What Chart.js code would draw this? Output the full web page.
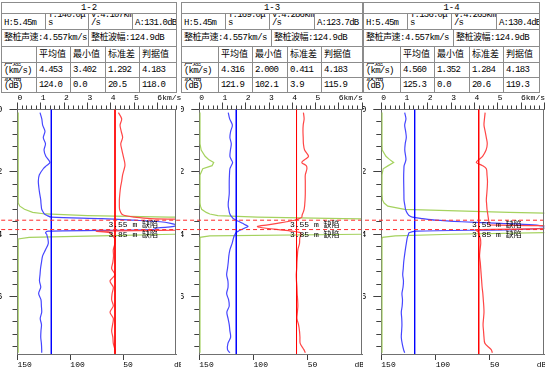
<!DOCTYPE html>
<html>
<head>
<meta charset="utf-8">
<script src="https://cdn.jsdelivr.net/npm/chart.js@4.4.0/dist/chart.umd.min.js"></script>
<style>
    html, body { margin: 0; padding: 0; background: #fff; }
    body { width: 545px; height: 369px; position: relative; overflow: hidden;
           font-family: "Liberation Mono", "Noto Sans CJK SC", monospace; }
    .cell { position: absolute; box-sizing: border-box; border: 1px solid #8c8c8c;
            font-size: 9px; line-height: 8px; color: #000; overflow: hidden;
            display: flex; align-items: center; padding-left: 2px;
            white-space: pre; letter-spacing: -0.8px; }
    .cell.title { justify-content: center; padding-left: 0; letter-spacing: 0; }
    .cell.low { align-items: flex-end; padding-bottom: 2px; }
    .cell.wide { letter-spacing: -0.5px; }
    .cell.cjk { letter-spacing: 0; }
    canvas { position: absolute; top: 92px; }
</style>
</head>
<body>
<script>
// 剖面名称和表头数据
const profileNames = ['1-2', '1-3', '1-4'];
const pileLength = 5.45;
const timeVals = [140.0, 169.0, 136.0];
const speedVals = [4.107, 4.286, 4.265];
const ampVals = [131.0, 123.7, 130.4];
const pileSpeed = 4.557;
const pileAmp = 124.9;
const statHeaders = ['平均值', '最小值', '标准差', '判据值'];
const speedStats = [[4.453, 3.402, 1.292, 4.183], [4.316, 2.000, 0.411, 4.183], [4.560, 1.352, 1.284, 4.183]];
const ampStats = [[124.0, 0.0, 20.5, 118.0], [121.9, 102.1, 3.9, 115.9], [125.3, 0.0, 20.6, 119.3]];
const defectDepths = [3.55, 3.85];

// 坐标轴刻度
const depthMax = 7.84;
const depthTickLabels = [0, 2, 4, 6];
const kmTickLabels = ['0', '1', '2', '3', '4', '5', '6km/s'];
const dbTickValues = [150, 100, 50];

// 测点深度 (m)
const depths = [
    0.1, 0.3, 0.5, 0.7, 0.9, 1.1, 1.3, 1.5,
    1.6, 1.7, 1.8, 1.9, 2.1, 2.3, 2.5, 2.7, 2.9,
    3.0, 3.1, 3.2, 3.3, 3.35, 3.4, 3.45,
    3.5, 3.55, 3.6, 3.65, 3.7, 3.75, 3.8, 3.85,
    3.9, 3.95, 4.0, 4.05, 4.1, 4.15, 4.3,
    4.5, 4.7, 4.9, 5.1, 5.3, 5.5, 5.7, 5.9, 6.1, 6.3, 6.5, 6.7, 6.9, 7.1, 7.3, 7.5, 7.7, 7.8
];

// 1-2 剖面
const amp12 = [
    128.7, 127.0, 126.2, 124.0, 125.6, 123.5, 124.9, 123.2,
    121.0, 119.3, 122.5, 125.6, 129.4, 130.3, 129.8, 129.0, 128.0,
    127.8, 127.5, 127.1, 125.5, 124.5, 122.0, 118.0,
    70.0, 40.0, 15.0, 5.0, 0.0, 2.0, 18.0, 22.0,
    121.0, 123.5, 122.4, 122.0, 121.6, 121.2, 120.9,
    123.5, 126.3, 127.3, 128.2, 128.7, 129.2, 128.0, 130.0, 127.8, 127.4, 127.1, 128.5, 127.3, 127.8, 128.0, 127.4, 127.1, 127.1
];
const speed12 = [
    4.33, 4.47, 4.40, 4.45, 4.51, 4.43, 4.48, 4.54,
    4.57, 4.60, 4.61, 4.58, 4.51, 4.47, 4.42, 4.39, 4.37,
    4.37, 4.37, 4.38, 4.43, 4.47, 4.60, 5.00,
    5.70, 9.00, 9.00, 9.00, 9.00, 9.00, 9.00, 9.00,
    3.40, 3.95, 4.04, 4.08, 4.14, 4.18, 4.18,
    4.11, 4.12, 4.09, 4.04, 4.18, 3.97, 4.11, 4.06, 4.04, 4.11, 3.97, 4.11, 4.08, 4.04, 4.09, 4.11, 4.18, 4.18
];
const psd12 = [
    0.03, 0.03, 0.03, 0.03, 0.03, 0.03, 0.03, 0.03,
    0.03, 0.03, 0.03, 0.03, 0.03, 0.03, 0.03, 0.03, 0.03,
    0.03, 0.10, 0.30, 0.65, 1.20, 3.00, 6.50,
    12, 12, 12, 12, 12, 12, 12, 12,
    12, 12, 6.70, 3.50, 0.50, 0.03, 0.03,
    0.03, 0.03, 0.03, 0.03, 0.03, 0.03, 0.03, 0.03, 0.03, 0.03, 0.03, 0.03, 0.03, 0.03, 0.03, 0.03, 0.03, 0.03
];

// 1-3 剖面
const amp13 = [
    123.3, 122.0, 119.5, 121.1, 121.8, 120.5, 121.3, 121.8,
    120.6, 119.3, 120.5, 121.8, 122.2, 122.4, 122.4, 122.4, 123.0,
    123.3, 123.3, 122.8, 122.3, 121.8, 121.0, 119.8,
    118.5, 116.0, 113.0, 110.0, 107.5, 105.0, 108.0, 111.0,
    114.0, 116.2, 117.0, 117.8, 118.3, 118.7, 119.8,
    121.8, 122.8, 123.3, 124.0, 124.8, 123.6, 123.5, 124.8, 123.0, 122.4, 124.6, 123.5, 122.4, 121.8, 121.1, 123.6, 124.0, 121.8
];
const speed13 = [
    4.48, 4.51, 4.47, 4.46, 4.47, 4.48, 4.53, 4.70,
    4.55, 4.41, 4.60, 4.63, 4.56, 4.56, 4.56, 4.56, 4.55,
    4.54, 4.53, 4.51, 4.47, 4.44, 4.42, 4.41,
    4.30, 4.10, 3.75, 3.35, 2.95, 2.50, 2.80, 3.40,
    4.00, 4.35, 4.38, 4.36, 4.33, 4.32, 4.31,
    4.24, 4.22, 4.20, 4.19, 4.17, 4.18, 4.20, 4.21, 4.23, 4.24, 4.22, 4.20, 4.27, 4.31, 4.33, 4.34, 4.50, 4.56
];
const psd13 = [
    0.03, 0.03, 0.03, 0.03, 0.03, 0.03, 0.08, 0.25,
    0.40, 0.62, 0.55, 0.15, 0.03, 0.03, 0.03, 0.03, 0.03,
    0.03, 0.05, 0.10, 0.30, 0.45, 0.80, 2.50,
    6.20, 12, 12, 12, 12, 12, 12, 12,
    12, 12, 7.00, 0.45, 0.03, 0.03, 0.03,
    0.03, 0.03, 0.03, 0.03, 0.03, 0.03, 0.03, 0.03, 0.03, 0.03, 0.03, 0.03, 0.03, 0.03, 0.03, 0.03, 0.03, 0.03
];

// 1-4 剖面
const amp14 = [
    128.5, 127.3, 128.5, 127.6, 127.0, 128.0, 128.4, 127.6,
    127.3, 128.0, 129.0, 129.2, 129.4, 129.4, 129.3, 129.2, 129.1,
    128.7, 128.2, 127.7, 126.5, 125.6, 124.5, 121.5,
    112.0, 100.3, 75.8, 40.0, 10.0, 0.0, 0.0, 28.0,
    118.0, 124.5, 125.0, 125.5, 126.0, 126.3, 127.0,
    127.9, 128.7, 129.4, 129.8, 130.3, 129.6, 130.0, 131.0, 130.5, 130.8, 131.6, 131.2, 131.0, 131.3, 131.6, 130.8, 129.5, 128.5
];
const speed14 = [
    4.46, 4.43, 4.41, 4.46, 4.51, 4.55, 4.50, 4.35,
    4.20, 4.08, 4.35, 4.51, 4.54, 4.56, 4.55, 4.53, 4.51,
    4.52, 4.53, 4.54, 4.56, 4.57, 4.58, 4.59,
    4.60, 4.61, 4.62, 4.63, 4.65, 9.00, 9.00, 4.05,
    4.12, 4.18, 4.20, 4.22, 4.24, 4.26, 4.27,
    4.24, 4.22, 4.25, 4.27, 4.29, 4.31, 4.33, 4.36, 4.38, 4.40, 4.41, 4.39, 4.37, 4.39, 4.41, 4.45, 4.72, 4.77
];
const psd14 = [
    0.03, 0.03, 0.03, 0.03, 0.03, 0.03, 0.04, 0.20,
    0.35, 0.53, 0.30, 0.08, 0.03, 0.03, 0.03, 0.03, 0.05,
    0.12, 0.28, 1.00, 5.50, 9.00, 12, 12,
    12, 12, 12, 12, 12, 12, 12, 12,
    12, 7.00, 3.00, 0.60, 0.05, 0.03, 0.03,
    0.03, 0.03, 0.03, 0.03, 0.03, 0.03, 0.03, 0.03, 0.03, 0.03, 0.03, 0.03, 0.03, 0.03, 0.03, 0.03, 0.03, 0.03
];

const ampSeries = [amp12, amp13, amp14];
const speedSeries = [speed12, speed13, speed14];
const psdSeries = [psd12, psd13, psd14];

// 版面位置
const rowY = [2, 13, 29, 46, 62, 77, 92];
const layouts = [
    { left: 1, width: 175, row2: [44, 87, 131], row3: 87, cols: [35, 69, 104, 138],
      canvasLeft: 0, canvasW: 181, axisW: 17.5, padRight: 5, kmMax: 6.8, dbUnit: 2 },
    { left: 181, width: 181, row2: [44, 88, 133], row3: 90, cols: [37, 71, 106, 140],
      canvasLeft: 181, canvasW: 182, axisW: 18.3, padRight: 1, kmMax: 7.0, dbUnit: 7 },
    { left: 363, width: 176, row2: [44, 88, 133], row3: 90, cols: [37, 71, 106, 140],
      canvasLeft: 363, canvasW: 182, axisW: 18.3, padRight: 0.7, kmMax: 7.0, dbUnit: 7 }
];
const labelKm = 3.9;

Chart.defaults.font.family = '"Liberation Mono", "Noto Sans CJK SC", monospace';
Chart.defaults.color = '#000';

function addCell(x0, y0, x1, y1, text, cls) {
    const d = document.createElement('div');
    d.className = 'cell' + (cls ? ' ' + cls : '');
    d.style.left = x0 + 'px';
    d.style.top = y0 + 'px';
    d.style.width = (x1 - x0 + 1) + 'px';
    d.style.height = (y1 - y0 + 1) + 'px';
    d.textContent = text;
    document.body.appendChild(d);
}

// 表头
function buildTable(p) {
    const L = layouts[p];
    const x0 = L.left, x1 = L.left + L.width;
    addCell(x0, rowY[0], x1, rowY[1], profileNames[p], 'title');

    const r2 = [x0, ...L.row2.map(v => x0 + v), x1];
    const r2Text = [
        'H:' + pileLength.toFixed(2) + 'm',
        'T:' + timeVals[p].toFixed(1) + 'μ\ns',
        'V:' + speedVals[p].toFixed(3) + 'km\n/s',
        'A:' + ampVals[p].toFixed(1) + 'dB'
    ];
    r2Text.forEach((t, i) => addCell(r2[i], rowY[1], r2[i + 1], rowY[2], t, 'low'));

    addCell(x0, rowY[2], x0 + L.row3, rowY[3], '整桩声速:' + pileSpeed.toFixed(3) + 'km/s', 'wide');
    addCell(x0 + L.row3, rowY[2], x1, rowY[3], '整桩波幅:' + pileAmp.toFixed(1) + 'dB', 'wide');

    const c = [x0, ...L.cols.map(v => x0 + v), x1];
    ['', ...statHeaders].forEach((t, i) => addCell(c[i], rowY[3], c[i + 1], rowY[4], t, 'cjk'));
    ['声速\n(km/s)', ...speedStats[p].map(v => v.toFixed(3))]
        .forEach((t, i) => addCell(c[i], rowY[4], c[i + 1], rowY[5], t, i === 0 ? 'low' : ''));
    ['波幅\n(dB)', ...ampStats[p].map(v => v.toFixed(1))]
        .forEach((t, i) => addCell(c[i], rowY[5], c[i + 1], rowY[6], t, i === 0 ? 'low' : ''));
}

const isWhole = (v, step) => Math.abs(v / step - Math.round(v / step)) < 1e-6;

// 右边框
const framePlugin = {
    id: 'frame',
    afterDraw(chart) {
        const a = chart.chartArea, ctx = chart.ctx;
        ctx.save();
        ctx.strokeStyle = '#707070';
        ctx.lineWidth = 1;
        ctx.beginPath();
        ctx.moveTo(Math.round(a.right) - 0.5, a.top);
        ctx.lineTo(Math.round(a.right) - 0.5, a.bottom);
        ctx.stroke();
        ctx.restore();
    }
};

// 缺陷标注
const defectLabelPlugin = {
    id: 'defectLabels',
    afterDatasetsDraw(chart) {
        const xs = chart.scales.xkm, ys = chart.scales.y, ctx = chart.ctx;
        ctx.save();
        ctx.font = '8px "Liberation Mono", "Noto Sans CJK SC"';
        ctx.fillStyle = '#000';
        ctx.textBaseline = 'top';
        defectDepths.forEach(d => {
            ctx.fillText(d.toFixed(2) + ' m 缺陷', xs.getPixelForValue(labelKm), ys.getPixelForValue(d) + 1);
        });
        ctx.restore();
    }
};

function buildChart(p) {
    const L = layouts[p];
    const canvas = document.createElement('canvas');
    canvas.width = L.canvasW;
    canvas.height = 277;
    canvas.style.left = L.canvasLeft + 'px';
    canvas.style.width = L.canvasW + 'px';
    canvas.style.height = '277px';
    document.body.appendChild(canvas);

    const curve = (vals) => depths.map((d, i) => ({ x: vals[i], y: d }));
    const vline = (v) => [{ x: v, y: 0 }, { x: v, y: depthMax }];
    const base = { pointRadius: 0, fill: false };

    const defectSets = defectDepths.map(d => Object.assign({}, base, {
        data: [{ x: -1, y: d }, { x: 9, y: d }],
        xAxisID: 'xkm', yAxisID: 'y',
        borderColor: '#ff2a2a', borderWidth: 1, borderDash: [4, 3],
        tension: 0, clip: false
    }));

    new Chart(canvas, {
        type: 'line',
        data: {
            datasets: [
                ...defectSets,
                Object.assign({}, base, { data: vline(speedStats[p][3]), xAxisID: 'xkm', yAxisID: 'y',
                    borderColor: '#ff0000', borderWidth: 1, tension: 0 }),
                Object.assign({}, base, { data: vline(ampStats[p][3]), xAxisID: 'xdb', yAxisID: 'y',
                    borderColor: '#0000ff', borderWidth: 1, tension: 0 }),
                Object.assign({}, base, { data: curve(speedSeries[p]), xAxisID: 'xkm', yAxisID: 'y',
                    borderColor: 'rgb(255,70,70)', borderWidth: 1.2, tension: 0.3 }),
                Object.assign({}, base, { data: curve(ampSeries[p]), xAxisID: 'xdb', yAxisID: 'y',
                    borderColor: 'rgb(70,70,255)', borderWidth: 1.2, tension: 0.3 }),
                Object.assign({}, base, { data: curve(psdSeries[p]), xAxisID: 'xkm', yAxisID: 'y',
                    borderColor: 'rgb(165,210,95)', borderWidth: 1.2, tension: 0 })
            ]
        },
        options: {
            responsive: false,
            animation: false,
            devicePixelRatio: 1,
            indexAxis: 'y',
            layout: { padding: { left: 0, top: 0, right: L.padRight, bottom: 0 } },
            plugins: { legend: { display: false }, tooltip: { enabled: false } },
            scales: {
                y: {
                    type: 'linear', axis: 'y', position: 'left', reverse: true,
                    min: 0, max: depthMax,
                    afterBuildTicks: (s) => {
                        const t = [];
                        for (let i = 0; i * 0.4 <= depthMax + 1e-6; i++) t.push({ value: +(i * 0.4).toFixed(2) });
                        s.ticks = t;
                    },
                    ticks: {
                        autoSkip: false, padding: 7, font: { size: 9 },
                        callback: (v) => depthTickLabels.includes(v) ? String(v) : ''
                    },
                    grid: {
                        drawOnChartArea: false, tickLength: 8, tickColor: '#404040',
                        tickBorderDash: (ctx) => ctx.tick && isWhole(ctx.tick.value, 2) ? [] : [0, 3, 5, 30]
                    },
                    border: { color: '#707070' },
                    afterFit: (s) => { s.width = L.axisW; s.paddingTop = 0; s.paddingBottom = 0; }
                },
                xkm: {
                    type: 'linear', axis: 'x', position: 'top',
                    min: 0, max: L.kmMax,
                    afterBuildTicks: (s) => {
                        const t = [];
                        for (let i = 0; i * 0.2 <= L.kmMax + 1e-6; i++) t.push({ value: +(i * 0.2).toFixed(2) });
                        s.ticks = t;
                    },
                    ticks: {
                        autoSkip: false, maxRotation: 0, minRotation: 0, align: 'start', padding: 0,
                        font: { size: 8 },
                        callback: (v) => isWhole(v, 1) && Math.round(v) < kmTickLabels.length ? kmTickLabels[Math.round(v)] : ''
                    },
                    grid: {
                        drawOnChartArea: false, tickLength: 7, tickColor: '#404040',
                        tickBorderDash: (ctx) => ctx.tick && isWhole(ctx.tick.value, 1) ? [] : [0, 3, 4, 30]
                    },
                    border: { color: '#707070' },
                    afterFit: (s) => { s.height = 17.5; s.paddingLeft = 0; s.paddingRight = 0; }
                },
                xdb: {
                    type: 'linear', axis: 'x', position: 'bottom', reverse: true,
                    min: 0, max: 150,
                    afterBuildTicks: (s) => {
                        s.ticks = dbTickValues.map(v => ({ value: v })).concat([{ value: L.dbUnit }]);
                    },
                    ticks: {
                        autoSkip: false, maxRotation: 0, minRotation: 0, align: 'start', padding: 0,
                        font: { size: 8 },
                        callback: (v, i) => i < dbTickValues.length ? String(v) : 'dB'
                    },
                    grid: {
                        drawOnChartArea: false, tickLength: 6,
                        tickColor: (ctx) => ctx.index < dbTickValues.length ? '#404040' : 'rgba(0,0,0,0)'
                    },
                    border: { color: '#707070' },
                    afterFit: (s) => { s.height = 15; s.paddingLeft = 0; s.paddingRight = 0; }
                }
            }
        },
        plugins: [framePlugin, defectLabelPlugin]
    });
}

[0, 1, 2].forEach(p => {
    buildTable(p);
    buildChart(p);
});
</script>
</body>
</html>
